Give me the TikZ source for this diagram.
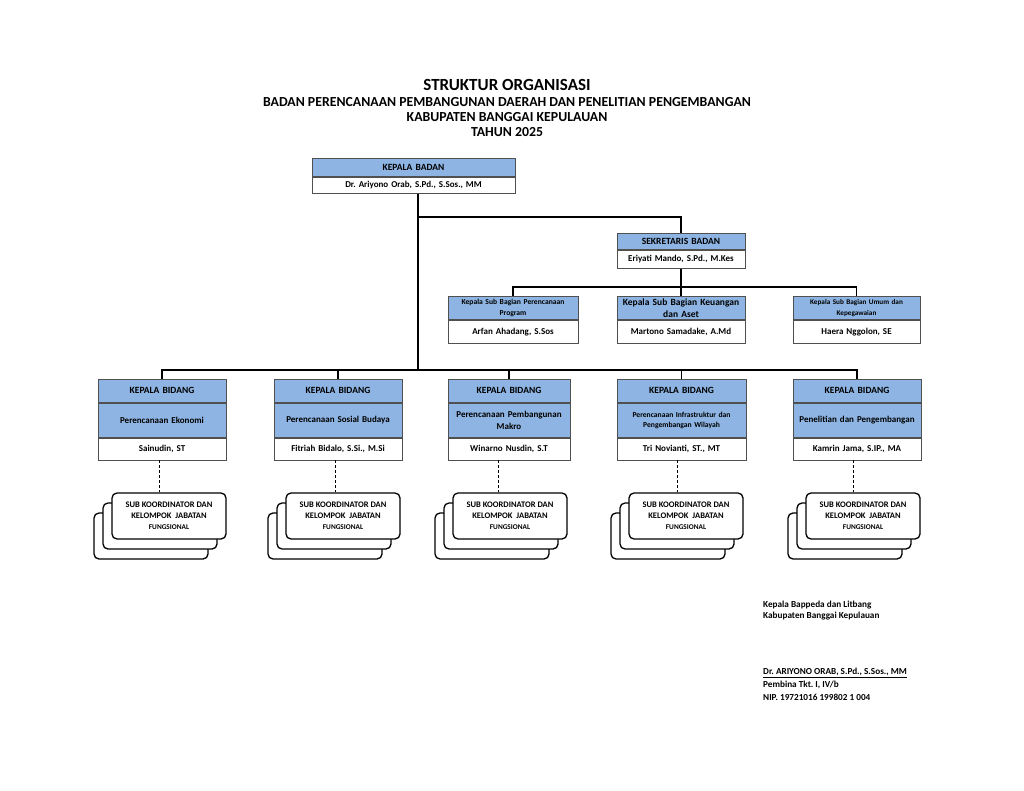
\documentclass[tikz,border=0pt]{standalone}
\usepackage{fontspec}
\setmainfont{Carlito}
\usepackage{xcolor}
\usetikzlibrary{positioning}
\frenchspacing
\definecolor{headblue}{RGB}{141,180,226}
\definecolor{frameGray}{RGB}{80,80,80}
\newcommand{\fsz}[2]{\fontsize{#1}{#2}\selectfont}
\tikzstyle{cell} = [rectangle, draw=frameGray, line width=0.8pt, inner xsep=2pt,
    inner ysep=0pt, align=center, font=\bfseries\fsz{9}{12}]
\tikzstyle{headcell} = [cell, fill=headblue]
\tikzstyle{capcell} = [headcell, font=\bfseries\fsz{9.5}{12}]
\tikzstyle{namecell} = [cell, fill=white]
\tikzstyle{stackbox} = [rectangle, draw, line width=1.3pt, rounded corners=5pt, fill=white,
    minimum width=114pt, minimum height=46pt, inner sep=0pt, align=center,
    font=\bfseries\fsz{8.5}{11}]
\tikzstyle{title} = [align=center, font=\bfseries]
\tikzstyle{sign} = [anchor=west, inner sep=0pt, font=\bfseries\fsz{9.2}{11}]
\tikzstyle{line} = [draw, line width=1.6pt]
\tikzstyle{dashline} = [draw, densely dashed, line width=0.6pt]

\begin{document}
\begin{tikzpicture}[x=1pt, y=-1pt]
			\useasboundingbox[fill=white] (0,0) rectangle (1024,791);
			% Title
			\node [title, font=\bfseries\fsz{17}{17}] (titleMain) at (507,85) {STRUKTUR ORGANISASI};
			\node [title, font=\bfseries\fsz{13.8}{14}] (titleBadan) at (507,102) {BADAN PERENCANAAN PEMBANGUNAN DAERAH DAN PENELITIAN PENGEMBANGAN};
			\node [title, font=\bfseries\fsz{13.8}{14}] (titleKab) at (507,117) {KABUPATEN BANGGAI KEPULAUAN};
			\node [title, font=\bfseries\fsz{13.8}{14}] (titleYear) at (507,132) {TAHUN 2025};

			% Kepala badan and sekretaris
			\node [capcell, text width=199pt, minimum height=18pt, anchor=north] (badanHead) at (413.5,158) {KEPALA BADAN};
			\node [namecell, text width=199pt, minimum height=16pt, below=0pt of badanHead] (badanName) {Dr. Ariyono Orab, S.Pd., S.Sos., MM};
			\node [capcell, text width=124pt, minimum height=16pt, anchor=north] (sekHead) at (681,233) {SEKRETARIS BADAN};
			\node [namecell, text width=124pt, minimum height=18pt, below=0pt of sekHead] (sekName) {Eriyati Mando, S.Pd., M.Kes};

			% Sub bagian
			\node [headcell, text width=126pt, minimum height=23pt, anchor=north, font=\bfseries\fsz{7.6}{11}] (subProgHead) at (513,296) {Kepala Sub Bagian Perencanaan\\Program};
			\node [namecell, text width=126pt, minimum height=23pt, below=0pt of subProgHead] (subProgName) {Arfan Ahadang, S.Sos};
			\node [headcell, text width=124pt, minimum height=23pt, anchor=north, font=\bfseries\fsz{9.5}{12}] (subKeuHead) at (681,296) {Kepala Sub Bagian Keuangan\\dan Aset};
			\node [namecell, text width=124pt, minimum height=23pt, below=0pt of subKeuHead] (subKeuName) {Martono Samadake, A.Md};
			\node [headcell, text width=123pt, minimum height=23pt, anchor=north, font=\bfseries\fsz{7.2}{11}] (subUmumHead) at (856.5,296) {Kepala Sub Bagian Umum dan\\Kepegawaian};
			\node [namecell, text width=123pt, minimum height=23pt, below=0pt of subUmumHead] (subUmumName) {Haera Nggolon, SE};

			% Kepala bidang
			\node [capcell, text width=124pt, minimum height=23pt, anchor=north] (bidEkoHead) at (162,379) {KEPALA BIDANG};
			\node [headcell, text width=124pt, minimum height=34pt, below=0pt of bidEkoHead] (bidEkoField) {Perencanaan Ekonomi};
			\node [namecell, text width=124pt, minimum height=22pt, below=0pt of bidEkoField] (bidEkoName) {Sainudin, ST};

			\node [capcell, text width=124pt, minimum height=23pt, anchor=north] (bidSosHead) at (338,379) {KEPALA BIDANG};
			\node [headcell, text width=124pt, minimum height=34pt, below=0pt of bidSosHead] (bidSosField) {Perencanaan Sosial Budaya};
			\node [namecell, text width=124pt, minimum height=22pt, below=0pt of bidSosField] (bidSosName) {Fitriah Bidalo, S.Si., M.Si};

			\node [capcell, text width=118pt, minimum height=23pt, anchor=north] (bidMakHead) at (509,379) {KEPALA BIDANG};
			\node [headcell, text width=118pt, minimum height=34pt, below=0pt of bidMakHead] (bidMakField) {Perencanaan Pembangunan\\Makro};
			\node [namecell, text width=118pt, minimum height=22pt, below=0pt of bidMakField] (bidMakName) {Winarno Nusdin, S.T};

			\node [capcell, text width=125pt, minimum height=23pt, anchor=north] (bidInfHead) at (681.5,379) {KEPALA BIDANG};
			\node [headcell, text width=125pt, minimum height=34pt, below=0pt of bidInfHead, font=\bfseries\fsz{7.6}{10}] (bidInfField) {Perencanaan Infrastruktur dan\\Pengembangan Wilayah};
			\node [namecell, text width=125pt, minimum height=22pt, below=0pt of bidInfField] (bidInfName) {Tri Novianti, ST., MT};

			\node [capcell, text width=124pt, minimum height=23pt, anchor=north] (bidLitHead) at (857,379) {KEPALA BIDANG};
			\node [headcell, text width=124pt, minimum height=34pt, below=0pt of bidLitHead] (bidLitField) {Penelitian dan Pengembangan};
			\node [namecell, text width=124pt, minimum height=22pt, below=0pt of bidLitField] (bidLitName) {Kamrin Jama, S.IP., MA};

			% Sub koordinator stacks
			\node [stackbox] (ekoBack) at (151,536) {};
			\node [stackbox] (ekoMid) at (160,526) {};
			\node [stackbox] (ekoFront) at (169,516) {SUB KOORDINATOR DAN\\KELOMPOK\ \ JABATAN\\{\fsz{7.3}{11}FUNGSIONAL}};
			\node [stackbox] (sosBack) at (325,536) {};
			\node [stackbox] (sosMid) at (334,526) {};
			\node [stackbox] (sosFront) at (343,516) {SUB KOORDINATOR DAN\\KELOMPOK\ \ JABATAN\\{\fsz{7.3}{11}FUNGSIONAL}};
			\node [stackbox] (makBack) at (492,536) {};
			\node [stackbox] (makMid) at (501,526) {};
			\node [stackbox] (makFront) at (510,516) {SUB KOORDINATOR DAN\\KELOMPOK\ \ JABATAN\\{\fsz{7.3}{11}FUNGSIONAL}};
			\node [stackbox] (infBack) at (668,536) {};
			\node [stackbox] (infMid) at (677,526) {};
			\node [stackbox] (infFront) at (686,516) {SUB KOORDINATOR DAN\\KELOMPOK\ \ JABATAN\\{\fsz{7.3}{11}FUNGSIONAL}};
			\node [stackbox] (litBack) at (845,536) {};
			\node [stackbox] (litMid) at (854,526) {};
			\node [stackbox] (litFront) at (863,516) {SUB KOORDINATOR DAN\\KELOMPOK\ \ JABATAN\\{\fsz{7.3}{11}FUNGSIONAL}};

			% Signature
			\node [sign] (signRole) at (763,605) {Kepala Bappeda dan Litbang};
			\node [sign] (signKab) at (763,616) {Kabupaten Banggai Kepulauan};
			\node [sign] (signName) at (763,673) {\underline{Dr. ARIYONO ORAB, S.Pd., S.Sos., MM}};
			\node [sign] (signRank) at (763,685) {Pembina Tkt. I, IV/b};
			\node [sign] (signNip) at (763,697) {NIP. 19721016 199802 1 004};

			% Draw edges
			\coordinate (badanJoint) at (418,217);
			\coordinate (bidangBus) at (418,370);
			\coordinate (subBus) at (681,287);
			\path [line] (badanName.south -| badanJoint) -- (bidangBus);
			\path [line] (badanJoint) -| (sekHead.north);
			\path [line] (sekName.south) -- (subBus);
			\path [line] (subProgHead.north) |- (subBus) -| (subUmumHead.north);
			\path [line] (subBus) -- (subKeuHead.north);
			\path [line] (bidEkoHead.north) |- (bidangBus) -| (bidLitHead.north);
			\path [line] (bidSosHead.north) -- (bidSosHead.north |- bidangBus);
			\path [line] (bidMakHead.north) -- (bidMakHead.north |- bidangBus);
			\path [line] (bidInfHead.north) -- (bidInfHead.north |- bidangBus);

			\path [dashline] ([xshift=-3pt]bidEkoName.south) -- ([xshift=-3pt]bidEkoName.south |- ekoFront.north);
			\path [dashline] ([xshift=-3pt]bidSosName.south) -- ([xshift=-3pt]bidSosName.south |- sosFront.north);
			\path [dashline] ([xshift=-11pt]bidMakName.south) -- ([xshift=-11pt]bidMakName.south |- makFront.north);
			\path [dashline] ([xshift=-4pt]bidInfName.south) -- ([xshift=-4pt]bidInfName.south |- infFront.north);
			\path [dashline] ([xshift=-4pt]bidLitName.south) -- ([xshift=-4pt]bidLitName.south |- litFront.north);
	\end{tikzpicture}
\end{document}
